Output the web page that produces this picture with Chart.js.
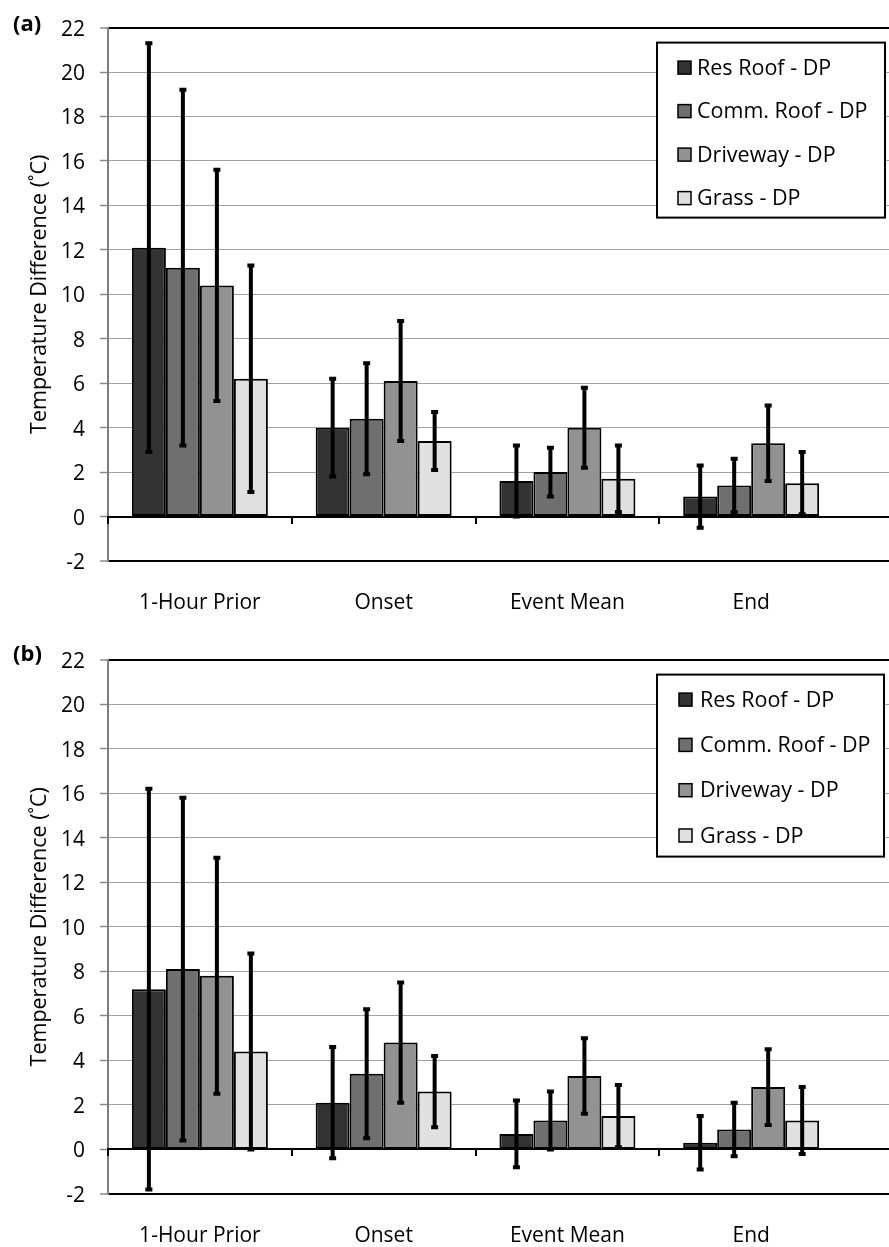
<!DOCTYPE html>
<html>
<head>
<meta charset="utf-8">
<script src="https://cdn.jsdelivr.net/npm/chart.js@4.4.1/dist/chart.umd.min.js"></script>
<style>
html,body{margin:0;padding:0;background:#fff;width:889px;height:1247px;overflow:hidden;}
canvas{position:absolute;left:0;}
#ca{top:0;}
#cb{top:632px;}
.plabel{position:absolute;left:13px;font-family:'Open Sans';font-weight:bold;font-size:22px;line-height:1;color:#000;}
</style>
</head>
<body>
<canvas id="ca" width="889" height="632"></canvas>
<canvas id="cb" width="889" height="615"></canvas>
<div class="plabel" style="top:11px">(a)</div>
<div class="plabel" style="top:641px">(b)</div>
<script>
// ---------- data ----------
const categories = ['1-Hour Prior', 'Onset', 'Event Mean', 'End'];
const seriesNames = ['Res Roof - DP', 'Comm. Roof - DP', 'Driveway - DP', 'Grass - DP'];
const yTickValues = [-2, 0, 2, 4, 6, 8, 10, 12, 14, 16, 18, 20, 22];
const yAxisTitle = 'Temperature Difference (˚C)';

// panel (a): means and error half-widths
const aResRoof      = [12.1, 4.0, 1.6, 0.9];
const aResRoofErr   = [9.2, 2.2, 1.6, 1.4];
const aCommRoof     = [11.2, 4.4, 2.0, 1.4];
const aCommRoofErr  = [8.0, 2.5, 1.1, 1.2];
const aDriveway     = [10.4, 6.1, 4.0, 3.3];
const aDrivewayErr  = [5.2, 2.7, 1.8, 1.7];
const aGrass        = [6.2, 3.4, 1.7, 1.5];
const aGrassErr     = [5.1, 1.3, 1.5, 1.4];

// panel (b)
const bResRoof      = [7.2, 2.1, 0.7, 0.3];
const bResRoofErr   = [9.0, 2.5, 1.5, 1.2];
const bCommRoof     = [8.1, 3.4, 1.3, 0.9];
const bCommRoofErr  = [7.7, 2.9, 1.3, 1.2];
const bDriveway     = [7.8, 4.8, 3.3, 2.8];
const bDrivewayErr  = [5.3, 2.7, 1.7, 1.7];
const bGrass        = [4.4, 2.6, 1.5, 1.3];
const bGrassErr     = [4.4, 1.6, 1.4, 1.5];

// ---------- styles ----------
const barColors = ['#333333', '#6f6f6f', '#929292', '#e0e0e0'];
const FONT = "'Open Sans', 'DejaVu Sans', sans-serif";
const FS_TICK = 21;
const FS_TEXT = 21.5;

// ---------- plugins ----------
const errorBars = {
  id: 'errorBars',
  afterDatasetsDraw(chart, args, o) {
    const ctx = chart.ctx;
    const ys = chart.scales.y;
    chart.data.datasets.forEach((ds, di) => {
      const meta = chart.getDatasetMeta(di);
      meta.data.forEach((bar, i) => {
        const v = ds.data[i].y;
        const e = ds.errors[i];
        const top = ys.getPixelForValue(v + e);
        const bot = ys.getPixelForValue(v - e);
        ctx.save();
        ctx.strokeStyle = o.color;
        ctx.lineWidth = o.lineWidth;
        ctx.beginPath();
        ctx.moveTo(bar.x, top);
        ctx.lineTo(bar.x, bot);
        ctx.stroke();
        ctx.lineWidth = o.capThickness;
        ctx.beginPath();
        ctx.moveTo(bar.x - o.capHalf, top);
        ctx.lineTo(bar.x + o.capHalf, top);
        ctx.moveTo(bar.x - o.capHalf, bot);
        ctx.lineTo(bar.x + o.capHalf, bot);
        ctx.stroke();
        ctx.restore();
      });
    });
  }
};

const boxLegend = {
  id: 'boxLegend',
  afterDraw(chart, args, o) {
    const ctx = chart.ctx;
    const ca = chart.chartArea;
    const x = ca.right - o.rightGap - o.width;
    const y = ca.top + o.topGap;
    ctx.save();
    ctx.fillStyle = '#ffffff';
    ctx.fillRect(x, y, o.width, o.height);
    ctx.strokeStyle = '#000';
    ctx.lineWidth = 2;
    ctx.strokeRect(x, y, o.width, o.height);
    ctx.font = FS_TEXT + 'px ' + FONT;
    ctx.textBaseline = 'middle';
    ctx.textAlign = 'left';
    chart.data.datasets.forEach((ds, i) => {
      const cy = y + o.first + i * o.spacing;
      ctx.fillStyle = ds.backgroundColor;
      ctx.fillRect(x + o.boxLeft, cy - o.box / 2, o.box, o.box);
      ctx.lineWidth = 1.5;
      ctx.strokeStyle = '#000';
      ctx.strokeRect(x + o.boxLeft, cy - o.box / 2, o.box, o.box);
      ctx.fillStyle = '#000';
      ctx.fillText(ds.label, x + o.textLeft, cy + 1);
    });
    ctx.restore();
  }
};

function makeChart(canvasId, series, errs, xAxisHeight, legendOpts) {
  const datasets = series.map((vals, s) => ({
    label: seriesNames[s],
    data: vals.map((v, i) => ({ x: i, y: v })),
    errors: errs[s],
    backgroundColor: barColors[s],
    borderColor: '#000',
    borderWidth: 2,
    borderSkipped: false,
    categoryPercentage: 0.74,
    barPercentage: 1.0
  }));
  return new Chart(document.getElementById(canvasId), {
    type: 'bar',
    data: { datasets },
    options: {
      responsive: false,
      devicePixelRatio: 1,
      animation: false,
      events: [],
      layout: { padding: { top: 20, right: 0, bottom: 0, left: 0 } },
      plugins: {
        legend: { display: false },
        tooltip: { enabled: false },
        errorBars: { color: '#000', lineWidth: 4, capThickness: 4, capHalf: 3.5 },
        boxLegend: legendOpts
      },
      scales: {
        x: {
          type: 'linear',
          position: 'bottom',
          min: -0.5,
          max: 3.75,
          offset: false,
          afterBuildTicks: s => { s.ticks = categories.map((c, i) => ({ value: i })); },
          afterFit: s => { s.height = xAxisHeight; },
          grid: { display: false, drawTicks: false, offset: false },
          border: { display: true, color: '#000', width: 2 },
          ticks: {
            callback: v => categories[v] !== undefined ? categories[v] : '',
            font: { family: FONT, size: FS_TICK },
            color: '#000',
            padding: 29,
            maxRotation: 0,
            autoSkip: false
          }
        },
        x0: {
          type: 'linear',
          position: { y: 0 },
          min: -0.5,
          max: 3.75,
          offset: false,
          afterBuildTicks: s => { s.ticks = [-0.5, 0.5, 1.5, 2.5].map(v => ({ value: v })); },
          afterFit: s => { s.height = 0; },
          grid: { display: true, drawOnChartArea: false, drawTicks: true, tickLength: 6, color: '#000', lineWidth: 2, offset: false, z: 1 },
          border: { display: true, color: '#000', width: 2, z: 1 },
          ticks: { display: false }
        },
        y: {
          type: 'linear',
          position: 'left',
          min: -2,
          max: 22,
          afterBuildTicks: s => { s.ticks = yTickValues.map(v => ({ value: v })); },
          afterFit: s => { s.width = 108; },
          grid: {
            color: c => (c.tick && (c.tick.value === 22 || c.tick.value === -2)) ? '#000' : '#a2a2a2',
            lineWidth: c => (c.tick && (c.tick.value === 22 || c.tick.value === -2)) ? 2 : 1,
            tickColor: '#8a8a8a',
            tickLength: 8,
            tickWidth: 1.5
          },
          border: { display: true, color: '#7f7f7f', width: 2 },
          ticks: {
            font: { family: FONT, size: FS_TICK },
            color: '#000',
            padding: 15,
            labelOffset: 2,
            autoSkip: false
          },
          title: {
            display: true,
            text: yAxisTitle,
            font: { family: FONT, size: FS_TEXT },
            color: '#000',
            padding: { top: 27, bottom: 0 }
          }
        }
      }
    },
    plugins: [errorBars, boxLegend]
  });
}

makeChart('ca',
  [aResRoof, aCommRoof, aDriveway, aGrass],
  [aResRoofErr, aCommRoofErr, aDrivewayErr, aGrassErr],
  71,
  { rightGap: 4, topGap: 15, width: 228, height: 175, first: 25, spacing: 43.5, boxLeft: 21, box: 13, textLeft: 40 });

makeChart('cb',
  [bResRoof, bCommRoof, bDriveway, bGrass],
  [bResRoofErr, bCommRoofErr, bDrivewayErr, bGrassErr],
  53,
  { rightGap: 5, topGap: 15, width: 227, height: 182, first: 25, spacing: 45.3, boxLeft: 22, box: 13, textLeft: 43 });
</script>
</body>
</html>
